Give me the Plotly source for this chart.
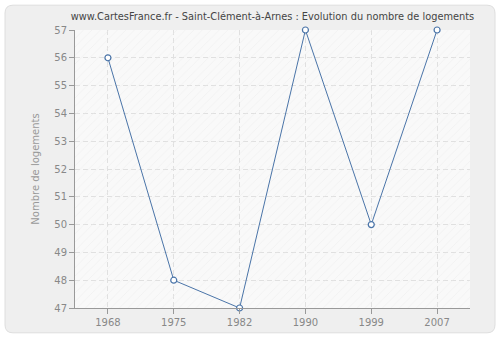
import plotly.graph_objects as go

years = ["1968", "1975", "1982", "1990", "1999", "2007"]
logements = [56, 48, 47, 57, 50, 57]
y_ticks = list(range(47, 58))

W, H = 500, 340
L, R, T, B = 75, 30, 30, 30
pw, ph = W - L - R, H - T - B

def px(x):
    return (x - L) / pw

def py(y):
    return (H - B - y) / ph

fig = go.Figure()

# hatched background on base (hidden) axes
fig.add_trace(go.Scatter(
    x=[0, 1, 1, 0, 0], y=[0, 0, 1, 1, 0], xaxis="x", yaxis="y",
    mode="lines", line=dict(width=0), fill="toself", fillcolor="rgba(0,0,0,0)",
    fillpattern=dict(shape="/", fgcolor="#ebebeb", bgcolor="rgba(0,0,0,0)", size=6, solidity=0.15),
    hoverinfo="skip", showlegend=False,
))

fig.add_trace(go.Scatter(
    x=years, y=logements, mode="lines+markers", xaxis="x2", yaxis="y2",
    line=dict(color="#4a74a8", width=1),
    marker=dict(symbol="circle", size=6, color="white", line=dict(color="#4a74a8", width=1.2)),
    showlegend=False, cliponaxis=False,
))

# rounded outer panel
x0, x1, y0, y1, r = 5, 495, 5, 335, 8
def P(x, y):
    return f"{px(x)},{py(y)}"
path = (f"M {P(x0+r, y0)} L {P(x1-r, y0)} Q {P(x1, y0)} {P(x1, y0+r)} "
        f"L {P(x1, y1-r)} Q {P(x1, y1)} {P(x1-r, y1)} L {P(x0+r, y1)} "
        f"Q {P(x0, y1)} {P(x0, y1-r)} L {P(x0, y0+r)} Q {P(x0, y0)} {P(x0+r, y0)} Z")
fig.add_shape(type="path", xref="paper", yref="paper", path=path,
              fillcolor="#efefef", line=dict(color="#dedede", width=1), layer="below")
fig.add_shape(type="rect", xref="paper", yref="paper", x0=0, x1=1, y0=0, y1=1,
              fillcolor="#f9f9f9", line=dict(width=0), layer="below")

fig.update_layout(
    width=W, height=H,
    margin=dict(l=L, r=R, t=T, b=B),
    paper_bgcolor="white",
    plot_bgcolor="#f9f9f9",
    font=dict(family="DejaVu Sans", size=10, color="#888888"),
    title=dict(text="www.CartesFrance.fr - Saint-Clément-à-Arnes : Evolution du nombre de logements",
               x=0.5, xref="paper", xanchor="center", y=1 - 17 / H, yanchor="middle",
               font=dict(size=9.8, color="#444444")),
    xaxis=dict(range=[0, 1], visible=False, fixedrange=True),
    yaxis=dict(range=[0, 1], visible=False, fixedrange=True),
    xaxis2=dict(
        overlaying="x", type="category", categoryorder="array", categoryarray=years,
        range=[-0.5, 5.5], showline=True, linecolor="#999999", linewidth=1,
        ticks="outside", ticklen=5, tickcolor="#999999", side="bottom",
        showgrid=True, gridcolor="#e0e0e0", griddash="5px,3px", gridwidth=1,
        zeroline=False, tickfont=dict(size=10, color="#888888"),
    ),
    yaxis2=dict(
        overlaying="y", range=[47, 57], tickvals=y_ticks, showline=True, linecolor="#999999", linewidth=1,
        ticks="outside", ticklen=5, tickcolor="#999999", side="left",
        showgrid=True, gridcolor="#e0e0e0", griddash="5px,3px", gridwidth=1,
        zeroline=False, tickfont=dict(size=10, color="#888888"),
        title=dict(text="Nombre de logements", font=dict(size=10, color="#999999"), standoff=12),
    ),
)

fig.write_html("out.html")
